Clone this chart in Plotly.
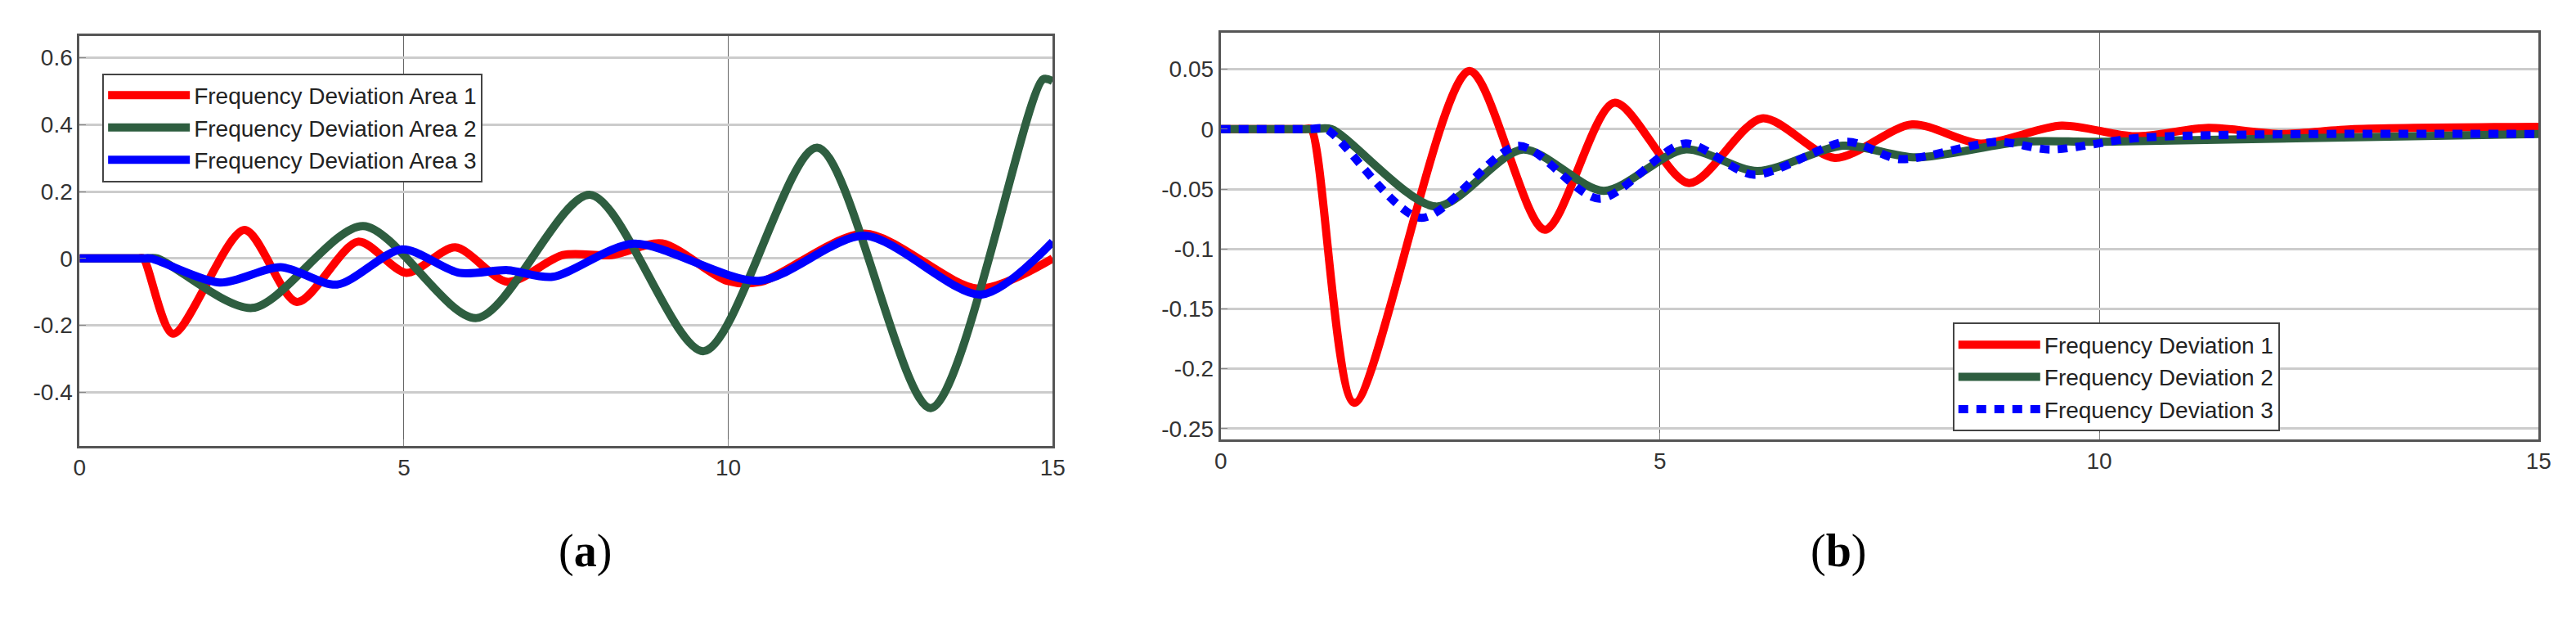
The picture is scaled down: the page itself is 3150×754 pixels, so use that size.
import plotly.graph_objects as go

# Panel (a)
a1_t = [0, 0.5, 0.9, 0.98, 1.44, 2.54, 3.35, 4.29, 5.04, 5.79, 6.6, 7.45, 8.2, 8.98, 9.98, 10.5, 12.1, 13.85, 15]
a1_v = [0, 0, 0, 0, -0.225, 0.085, -0.13, 0.05, -0.043, 0.033, -0.07, 0.01, 0.01, 0.045, -0.067, -0.07, 0.074, -0.09, 0.0]
a2_t = [0, 0.6, 1.0, 1.2, 2.66, 4.37, 6.12, 7.87, 9.62, 11.37, 13.12, 14.85, 15]
a2_v = [0, 0, 0, 0, -0.148, 0.097, -0.178, 0.19, -0.277, 0.331, -0.447, 0.535, 0.53]
a3_t = [0, 0.6, 0.95, 1.1, 2.16, 3.1, 3.97, 4.97, 5.85, 6.6, 7.29, 8.54, 10.47, 12.1, 13.9, 15]
a3_v = [0, 0, 0, 0, -0.072, -0.026, -0.078, 0.027, -0.043, -0.035, -0.055, 0.044, -0.067, 0.068, -0.108, 0.05]

# Panel (b)
b1_t = [0, 0.5, 0.95, 1.03, 1.52, 2.83, 3.69, 4.48, 5.33, 6.16, 6.99, 7.87, 8.65, 9.57, 10.4, 11.24, 12.07, 12.9, 15]
b1_v = [0, 0, 0, 0, -0.2285, 0.0485, -0.084, 0.022, -0.045, 0.009, -0.024, 0.004, -0.012, 0.003, -0.006, 0.001, -0.004, 0.0, 0.002]
b2_t = [0, 0.6, 1.05, 1.26, 2.45, 3.44, 4.36, 5.28, 6.11, 7.08, 7.91, 9.11, 10.04, 15]
b2_v = [0, 0, 0, 0, -0.0646, -0.017, -0.0515, -0.017, -0.035, -0.0138, -0.0236, -0.0105, -0.0105, -0.004]
b3_t = [0, 0.6, 1.0, 1.2, 2.28, 3.39, 4.31, 5.28, 6.07, 7.13, 7.73, 8.84, 9.44, 10.5, 15]
b3_v = [0, 0, 0, 0, -0.074, -0.014, -0.058, -0.012, -0.038, -0.0105, -0.025, -0.0105, -0.017, -0.007, -0.004]

names_a = ["Frequency Deviation Area 1", "Frequency Deviation Area 2", "Frequency Deviation Area 3"]
names_b = ["Frequency Deviation 1", "Frequency Deviation 2", "Frequency Deviation 3"]
RED, GREEN, BLUE = "#ff0000", "#2e5e40", "#0000ff"
FONT = "Liberation Sans Narrow, Arial Narrow, Liberation Sans, sans-serif"

fig = go.Figure()
for t, v, n, c in zip([a1_t, a2_t, a3_t], [a1_v, a2_v, a3_v], names_a, [RED, GREEN, BLUE]):
    fig.add_trace(go.Scatter(x=t, y=v, name=n, mode="lines", line=dict(color=c, width=10, shape="spline", smoothing=0.8),
                             xaxis="x", yaxis="y", legend="legend"))
for t, v, n, c, d in zip([b1_t, b2_t, b3_t], [b1_v, b2_v, b3_v], names_b, [RED, GREEN, BLUE], ["solid", "solid", "12px,10px"]):
    fig.add_trace(go.Scatter(x=t, y=v, name=n, mode="lines", line=dict(color=c, width=10, shape="spline", smoothing=0.8, dash=d),
                             xaxis="x2", yaxis="y2", legend="legend2"))

W, H = 3150, 754
ax = dict(showline=True, mirror=True, linecolor="#555555", linewidth=3, ticks="inside", ticklen=8,
          tickcolor="#888888", tickfont=dict(family=FONT, size=28, color="#333333"), zeroline=False)
xa = dict(ax, range=[0, 15], tickvals=[0, 5, 10, 15], showgrid=True, gridcolor="#666666", gridwidth=1)
ya = dict(ax, showgrid=True, gridcolor="#cccccc", gridwidth=3)

legend_common = dict(font=dict(family=FONT, size=28, color="#222222"), bgcolor="white", bordercolor="#444444",
                     borderwidth=2, itemwidth=100, tracegroupgap=0, xanchor="left", yanchor="top")
fig.update_layout(
    width=W, height=H, margin=dict(l=0, r=0, t=0, b=0), paper_bgcolor="white", plot_bgcolor="white",
    xaxis=dict(xa, domain=[82 / W, 1281 / W], anchor="y"),
    yaxis=dict(ya, domain=[1 - 539 / H, 1 - 36 / H], range=[-0.56, 0.665],
               tickvals=[-0.4, -0.2, 0, 0.2, 0.4, 0.6], ticktext=["-0.4", "-0.2", "0", "0.2", "0.4", "0.6"], anchor="x"),
    xaxis2=dict(xa, domain=[1488 / W, 3112 / W], anchor="y2"),
    yaxis2=dict(ya, domain=[1 - 531 / H, 1 - 32 / H], range=[-0.259, 0.0806],
                tickvals=[-0.25, -0.2, -0.15, -0.1, -0.05, 0, 0.05],
                ticktext=["-0.25", "-0.2", "-0.15", "-0.1", "-0.05", "0", "0.05"], anchor="x2"),
    legend=dict(legend_common, x=110 / W, y=1 - 82 / H),
    legend2=dict(legend_common, x=2390 / W, y=1 - 388 / H),
    showlegend=True,
    annotations=[
        dict(text="(<b>a</b>)", x=670 / W, y=1 - 702 / H, xref="paper", yref="paper", showarrow=False,
             font=dict(family="Liberation Serif, serif", size=56, color="black")),
        dict(text="(<b>b</b>)", x=2285 / W, y=1 - 702 / H, xref="paper", yref="paper", showarrow=False,
             font=dict(family="Liberation Serif, serif", size=56, color="black")),
    ],
)
fig.write_html("out.html")
